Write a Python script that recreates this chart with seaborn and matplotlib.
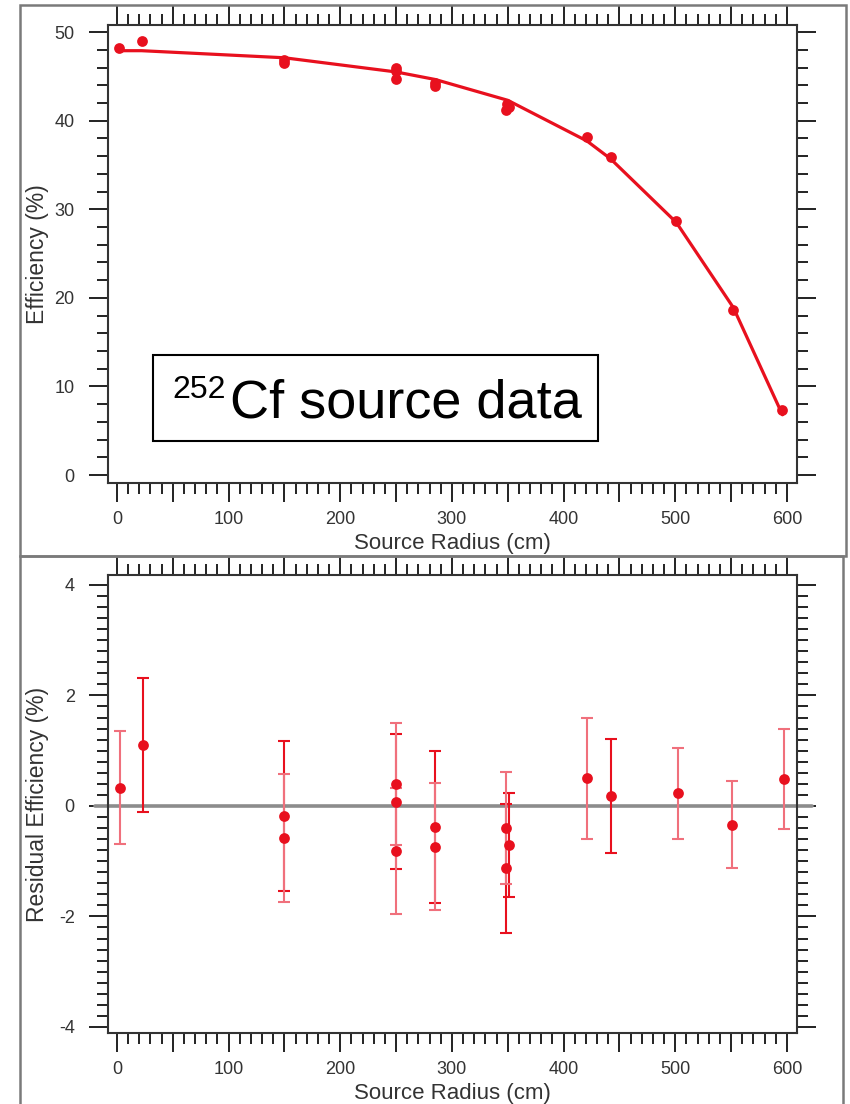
import matplotlib
matplotlib.use("Agg")
import matplotlib.pyplot as plt
import numpy as np
import pandas as pd
import seaborn as sns
from matplotlib.patches import Rectangle
from matplotlib.ticker import MultipleLocator

# ---- measured efficiency vs. source position ----
radius_eff = [2, 22, 150, 150, 250, 250, 250, 285, 285, 349, 351, 348, 421, 442, 501, 552, 596]
efficiency = [48.2, 49.0, 46.9, 46.5, 45.95, 45.6, 44.7, 44.3, 43.95, 41.9, 41.6, 41.15,
              38.2, 35.9, 28.7, 18.6, 7.3]

# ---- fitted efficiency curve ----
fit_radius = [2, 22, 150, 250, 285, 350, 421, 442, 501, 552, 596]
fit_eff = [47.9, 47.9, 47.1, 45.5, 44.65, 42.3, 37.7, 35.7, 28.5, 18.9, 6.8]

# ---- residuals (data - fit) with uncertainties ----
radius_res = [3, 23, 150, 150, 250, 250, 250, 285, 285, 348, 351, 348, 421, 442, 502, 551, 597]
residual = [0.33, 1.10, -0.18, -0.58, 0.40, 0.08, -0.81, -0.38, -0.74, -0.40, -0.70, -1.13,
            0.50, 0.18, 0.23, -0.34, 0.49]
residual_err = [1.02, 1.21, 1.36, 1.16, 1.11, 1.22, 1.14, 1.38, 1.15, 1.01, 0.94, 1.17,
                1.09, 1.03, 0.82, 0.79, 0.90]
err_tone = ["light", "dark", "dark", "light", "light", "dark", "light", "dark", "light",
            "light", "dark", "dark", "light", "dark", "light", "light", "light"]

# ---- axis ticks ----
x_ticks = [0, 50, 100, 150, 200, 250, 300, 350, 400, 450, 500, 550, 600]
x_tick_labels = ["0", "", "100", "", "200", "", "300", "", "400", "", "500", "", "600"]
eff_ticks = [0, 10, 20, 30, 40, 50]
res_ticks = [-4, -2, 0, 2, 4]
res_tick_labels = ["-4", "-2", "0", "2", "4"]

RED = "#e8101e"
LIGHT_RED = "#f0707c"
TONE_COLORS = {"dark": RED, "light": LIGHT_RED}

sns.set_theme(style="ticks")
plt.rcParams["font.family"] = ["Liberation Sans", "DejaVu Sans"]
plt.rcParams["axes.unicode_minus"] = False

W, H = 850, 1104
fig = plt.figure(figsize=(W / 100, H / 100), dpi=100)
fig.patch.set_facecolor("white")


def axes_from_px(left, top, right, bottom):
    return fig.add_axes([left / W, 1 - bottom / H, (right - left) / W, (bottom - top) / H])


ax1 = axes_from_px(108, 25, 797, 483)
ax2 = axes_from_px(108, 575, 797, 1033)


def style_axes(ax):
    for sp in ax.spines.values():
        sp.set_color("#333333")
        sp.set_linewidth(1.5)
    ax.set_xticks(x_ticks, labels=x_tick_labels)
    ax.xaxis.set_minor_locator(MultipleLocator(10))
    ax.set_xlim(-8, 609)
    ax.tick_params(which="both", direction="out", top=True, right=True,
                   color="#222222", width=1.4, labelsize=13,
                   labelcolor="#333333", pad=10)
    ax.tick_params(axis="x", which="both", pad=6)
    ax.tick_params(which="major", length=14)
    ax.tick_params(which="minor", length=8)
    ax.set_xlabel("Source Radius (cm)", fontsize=16, color="#333333")
    ax.xaxis.set_label_coords(0.5, -50 / 458)
    ax.yaxis.set_label_coords(-0.085, 0.5)


# ---------- upper panel: efficiency ----------
style_axes(ax1)
ax1.set_yticks(eff_ticks)
ax1.yaxis.set_minor_locator(MultipleLocator(2))
ax1.set_ylim(-0.9, 50.8)
ax1.set_ylabel("Efficiency (%)", fontsize=16.5, color="#333333")

sns.lineplot(x=fit_radius, y=fit_eff, color=RED, linewidth=2.3, ax=ax1, zorder=3)
sns.scatterplot(x=radius_eff, y=efficiency, color=RED, s=60, linewidth=0,
                ax=ax1, zorder=4, legend=False)

ax1.add_patch(Rectangle((0.0653, 0.0917), 0.6459, 0.1878, transform=ax1.transAxes,
                        facecolor="white", edgecolor="black", linewidth=1.5, zorder=5))
ax1.text(0.0929, 0.1856, "252", fontsize=23, color="black", transform=ax1.transAxes,
         ha="left", va="baseline", zorder=6)
ax1.text(0.177, 0.144, "Cf source data", fontsize=39, color="black",
         transform=ax1.transAxes, ha="left", va="baseline", zorder=6)

# ---------- lower panel: residuals ----------
style_axes(ax2)
ax2.set_yticks(res_ticks, labels=res_tick_labels)
ax2.yaxis.set_minor_locator(MultipleLocator(0.2))
ax2.set_ylim(-4.11, 4.18)

ax2.axhline(0, xmin=-13 / 689, xmax=704 / 689, color="#8c8c8c", linewidth=2.6,
            clip_on=False, zorder=1)

res_df = pd.DataFrame({"radius": radius_res, "residual": residual,
                       "err": residual_err, "tone": err_tone})
for tone, grp in res_df.groupby("tone"):
    ax2.errorbar(grp["radius"], grp["residual"], yerr=grp["err"], fmt="none",
                 ecolor=TONE_COLORS[tone], elinewidth=1.5, capsize=4.5,
                 capthick=1.5, zorder=2)
sns.scatterplot(data=res_df, x="radius", y="residual", color=RED, s=60,
                linewidth=0, ax=ax2, zorder=4, legend=False)
ax2.set_xlabel("Source Radius (cm)", fontsize=16, color="#333333")
ax2.set_ylabel("Residual Efficiency (%)", fontsize=16.5, color="#333333")

# ---------- panel frames ----------
fig.patches.append(Rectangle((20 / W, 1 - 556 / H), 826 / W, 551 / H,
                             transform=fig.transFigure, fill=False,
                             edgecolor="#7a7a7a", linewidth=1.8))
fig.patches.append(Rectangle((20 / W, -0.01), 823 / W, 1 - 556 / H + 0.01,
                             transform=fig.transFigure, fill=False,
                             edgecolor="#7a7a7a", linewidth=1.8))

fig.savefig("out.png", dpi=100)
